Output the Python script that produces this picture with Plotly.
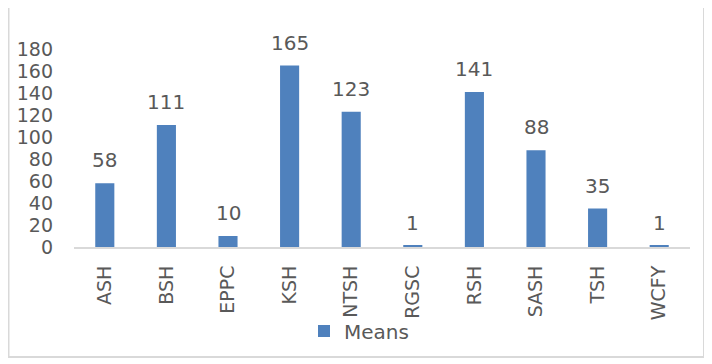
import plotly.graph_objects as go

categories = ["ASH", "BSH", "EPPC", "KSH", "NTSH", "RGSC", "RSH", "SASH", "TSH", "WCFY"]
means = [58, 111, 10, 165, 123, 1, 141, 88, 35, 1]
y_ticks = [0, 20, 40, 60, 80, 100, 120, 140, 160, 180]

# the page body has an 8px default margin; the figure is sized so that the
# chart lands on the same pixels as in the reference window
OFF = 8
W, H = 712 - OFF, 364 - OFF
L, T = 74 - OFF, 49 - OFF
R = W - (690 - OFF)
B = H - (247 - OFF)
PW = W - L - R
PH = H - T - B

def px_x(px):
    return (px - OFF - L) / PW

def px_y(py):
    return (H - B - (py - OFF)) / PH

FONT = "DejaVu Sans"
TXT = "#595959"
BAR = "#4F81BD"
GRAY = "#D9D9D9"

fig = go.Figure()
fig.add_trace(go.Bar(
    x=categories, y=means, name="Means",
    marker=dict(color=BAR, line=dict(width=0)),
    hoverinfo="x+y",
))

for c, v in zip(categories, means):
    fig.add_annotation(x=c, y=v, text=str(v), showarrow=False,
                       yanchor="middle", yshift=23,
                       font=dict(family=FONT, size=20, color=TXT))

fig.add_shape(type="rect", xref="paper", yref="paper",
              x0=px_x(8.5), x1=px_x(704), y0=px_y(357), y1=px_y(4.5),
              line=dict(color=GRAY, width=2), layer="below")

fig.update_layout(
    width=W, height=H,
    margin=dict(l=L, r=R, t=T, b=B, pad=0, autoexpand=False),
    paper_bgcolor="white", plot_bgcolor="white",
    bargap=0.69,
    font=dict(family=FONT, color=TXT),
    showlegend=True,
    legend=dict(orientation="h", x=px_x(304), xanchor="left",
                y=px_y(331), yanchor="middle",
                font=dict(family=FONT, size=20, color=TXT),
                bgcolor="rgba(0,0,0,0)"),
    xaxis=dict(showline=True, linecolor=GRAY, linewidth=2,
               showgrid=False, ticks="", tickangle=-90,
               ticklabelstandoff=9, automargin=False,
               tickfont=dict(family=FONT, size=19, color=TXT)),
    yaxis=dict(range=[0, 180], tickvals=y_ticks, showgrid=False,
               showline=False, zeroline=False, ticks="",
               ticklabelstandoff=20, automargin=False,
               tickfont=dict(family=FONT, size=19, color=TXT)),
)

fig.write_html("out.html")
